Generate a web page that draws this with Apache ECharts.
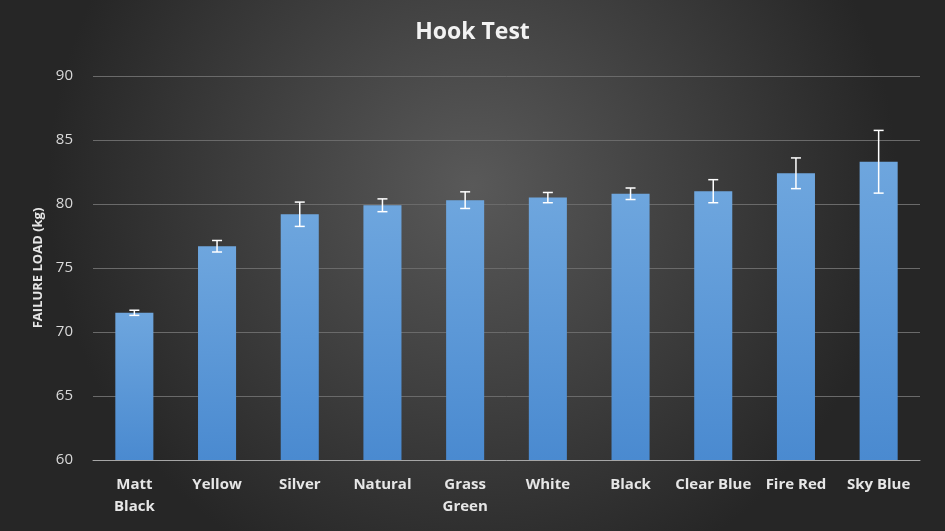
<!DOCTYPE html>
<html><head><meta charset="utf-8">
<script src="https://cdn.jsdelivr.net/npm/echarts@6/dist/echarts.min.js"></script>
<style>html,body{margin:0;padding:0;}#c{width:945px;height:531px;}</style>
</head><body><div id="c"></div>
<script>
const categories = ['Matt\nBlack','Yellow','Silver','Natural','Grass\nGreen','White','Black','Clear Blue','Fire Red','Sky Blue'];
const values = [71.5, 76.7, 79.2, 79.9, 80.3, 80.5, 80.8, 81.0, 82.4, 83.3];
const errors = [0.2, 0.45, 0.95, 0.5, 0.65, 0.4, 0.45, 0.9, 1.2, 2.45];
const chart = echarts.init(document.getElementById('c'));
chart.setOption({
  backgroundColor: {type:'radial', x:0.5, y:0.35, r:0.8, colorStops:[{offset:0,color:'#595959'},{offset:1,color:'#262626'}]},
  title:{text:'Hook Test', left:'center', top:16, textStyle:{color:'#f2f2f2', fontSize:23, fontWeight:'bold', fontFamily:'Open Sans', letterSpacing:1}},
  grid:{left:93, right:25, top:76, bottom:71},
  xAxis:{type:'category', data:categories, axisTick:{show:false},
    axisLine:{lineStyle:{color:'#a6a6a6'}},
    axisLabel:{color:'#e6e6e6', fontSize:15, fontWeight:'bold', fontFamily:'Open Sans', lineHeight:22, margin:14, interval:0}},
  yAxis:{type:'value', min:60, max:90, interval:5,
    name:'FAILURE LOAD (kg)', nameLocation:'middle', nameGap:46,
    nameTextStyle:{color:'#e6e6e6', fontSize:13, fontWeight:'bold', fontFamily:'Open Sans'},
    axisLine:{show:false}, axisTick:{show:false},
    splitLine:{lineStyle:{color:'#6a6a6a'}},
    axisLabel:{color:'#d9d9d9', fontSize:15, fontFamily:'Open Sans', margin:20}},
  series:[
    {type:'bar', data:values, barWidth:'46%',
     itemStyle:{color:{type:'linear',x:0,y:0,x2:0,y2:1,colorStops:[{offset:0,color:'#6ea6de'},{offset:1,color:'#4a8ad0'}]}}},
    {type:'custom', data:values.map((v,i)=>[i,v-errors[i],v+errors[i]]), z:10,
     renderItem:(p,api)=>{
       const lo=api.coord([api.value(0),api.value(1)]), hi=api.coord([api.value(0),api.value(2)]);
       const w=5, st={stroke:'#ffffff', lineWidth:1.5};
       return {type:'group', children:[
         {type:'line', shape:{x1:lo[0],y1:lo[1],x2:hi[0],y2:hi[1]}, style:st},
         {type:'line', shape:{x1:lo[0]-w,y1:lo[1],x2:lo[0]+w,y2:lo[1]}, style:st},
         {type:'line', shape:{x1:hi[0]-w,y1:hi[1],x2:hi[0]+w,y2:hi[1]}, style:st}]};
     }}
  ]
});
</script></body></html>
